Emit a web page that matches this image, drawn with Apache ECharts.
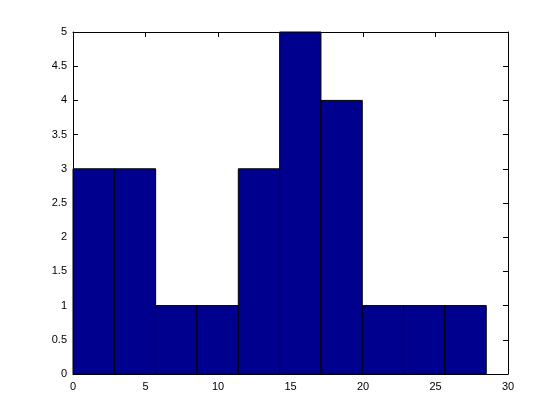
<!DOCTYPE html>
<html>
<head>
<meta charset="utf-8">
<script src="https://cdn.jsdelivr.net/npm/echarts@6/dist/echarts.min.js"></script>
<style>html,body{margin:0;padding:0;background:#fff}#c{width:560px;height:420px}</style>
</head>
<body>
<div id="c"></div>
<script>
var binEdges = [0, 2.85, 5.7, 8.55, 11.4, 14.25, 17.1, 19.95, 22.8, 25.65, 28.5];
var counts = [3, 3, 1, 1, 3, 5, 4, 1, 1, 1];
var xTicks = [0, 5, 10, 15, 20, 25, 30];
var yTicks = [0, 0.5, 1, 1.5, 2, 2.5, 3, 3.5, 4, 4.5, 5];

var data = counts.map(function (c, i) { return [binEdges[i], binEdges[i + 1], c]; });
var font = 'Liberation Sans, Arial, sans-serif';
var chart = echarts.init(document.getElementById('c'), null, {renderer: 'canvas'});
var axisCommon = {
  axisLine: {show: true, onZero: false, lineStyle: {color: '#000', width: 1}},
  axisTick: {show: true, inside: true, length: 5, lineStyle: {color: '#000'}},
  splitLine: {show: false}
};
chart.setOption({
  animation: false,
  backgroundColor: '#fff',
  grid: {left: 73, right: 52, top: 32, bottom: 46, containLabel: false},
  xAxis: [
    Object.assign({type: 'value', min: xTicks[0], max: xTicks[xTicks.length - 1], interval: 5, position: 'bottom',
      axisLabel: {color: '#000', fontFamily: font, fontSize: 11, margin: 7}}, axisCommon),
    Object.assign({type: 'value', min: xTicks[0], max: xTicks[xTicks.length - 1], interval: 5, position: 'top',
      axisLabel: {show: false}}, axisCommon)
  ],
  yAxis: [
    Object.assign({type: 'value', min: yTicks[0], max: yTicks[yTicks.length - 1], interval: 0.5, position: 'left',
      axisLabel: {color: '#000', fontFamily: font, fontSize: 11, margin: 6}}, axisCommon),
    Object.assign({type: 'value', min: yTicks[0], max: yTicks[yTicks.length - 1], interval: 0.5, position: 'right',
      axisLabel: {show: false}}, axisCommon)
  ],
  series: [{
    type: 'custom',
    xAxisIndex: 0, yAxisIndex: 0,
    data: data,
    renderItem: function (params, api) {
      var p0 = api.coord([api.value(0), 0]);
      var p1 = api.coord([api.value(1), api.value(2)]);
      return {
        type: 'rect',
        shape: {x: p0[0], y: p1[1], width: p1[0] - p0[0], height: p0[1] - p1[1]},
        style: {fill: '#00008F', stroke: '#000', lineWidth: 1}
      };
    }
  }]
});
</script>
</body>
</html>
